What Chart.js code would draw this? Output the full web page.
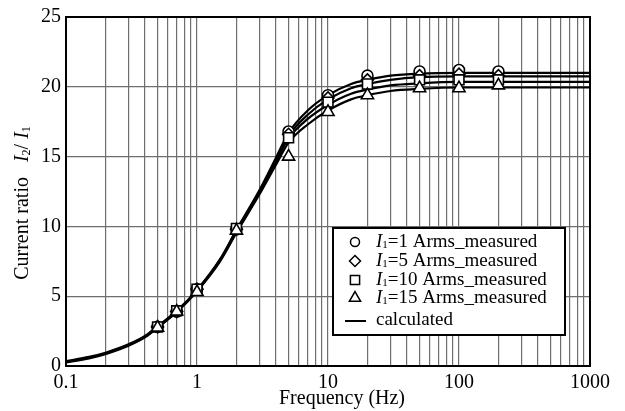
<!DOCTYPE html>
<html>
<head>
<meta charset="utf-8">
<script src="https://cdn.jsdelivr.net/npm/chart.js@4.4.1/dist/chart.umd.min.js"></script>
<style>
  body { margin: 0; background: #fff; }
  #wrap { width: 625px; height: 411px; }
</style>
</head>
<body>
<div id="wrap"><canvas id="ratio" width="625" height="411"></canvas></div>
<script>
// measured points (Hz)
var measFreqs = [0.5, 0.7, 1, 2, 5, 10, 20, 50, 100, 200];
var meas1  = [2.8, 3.9, 5.5, 9.8, 16.8, 19.4, 20.8, 21.1, 21.2, 21.1];
var meas5  = [2.8, 3.9, 5.5, 9.8, 16.6, 19.2, 20.5, 20.8, 20.9, 20.8];
var meas10 = [2.8, 3.95, 5.5, 9.85, 16.35, 18.9, 20.2, 20.5, 20.5, 20.5];
var meas15 = [2.75, 3.9, 5.3, 9.7, 15.0, 18.2, 19.4, 19.9, 19.9, 20.1];

// calculated curves
var calcFreqs = [0.1, 0.15, 0.2, 0.3, 0.4, 0.5, 0.7, 1, 1.5, 2, 3, 4, 5, 7, 10, 15, 20, 30, 50, 100, 200, 500, 1000];
var calc1  = [0.35, 0.65, 0.95, 1.55, 2.15, 2.85, 3.95, 5.45, 7.65, 9.75, 12.6, 14.9, 16.7, 18.3, 19.4, 20.2, 20.5, 20.8, 20.95, 21.0, 21.0, 21.0, 21.0];
var calc5  = [0.3, 0.6, 0.9, 1.5, 2.1, 2.8, 3.9, 5.4, 7.6, 9.7, 12.5, 14.8, 16.5, 18.0, 19.1, 19.9, 20.2, 20.5, 20.7, 20.75, 20.75, 20.75, 20.75];
var calc10 = [0.3, 0.6, 0.9, 1.5, 2.1, 2.8, 3.9, 5.4, 7.55, 9.6, 12.4, 14.6, 16.3, 17.7, 18.7, 19.5, 19.8, 20.1, 20.25, 20.35, 20.35, 20.35, 20.35];
var calc15 = [0.25, 0.55, 0.85, 1.45, 2.05, 2.75, 3.85, 5.35, 7.5, 9.55, 12.3, 14.4, 16.0, 17.3, 18.3, 19.1, 19.4, 19.7, 19.85, 19.95, 19.95, 19.95, 19.95];

var xTickLabels = ['0.1', '1', '10', '100', '1000'];
var yTicks = [0, 5, 10, 15, 20, 25];
var legendLabels = ['=1 Arms_measured', '=5 Arms_measured', '=10 Arms_measured', '=15 Arms_measured'];

var serif = '"Liberation Serif", "Times New Roman", serif';

function pts(xs, ys) {
  return xs.map(function(x, i) { return {x: x, y: ys[i]}; });
}

function lineSet(vals) {
  return {
    data: pts(calcFreqs, vals), showLine: true, pointRadius: 0,
    borderColor: '#000', borderWidth: 2.2, cubicInterpolationMode: 'monotone',
    fill: false, order: 5
  };
}

function markSet(vals, style, r, ord) {
  return {
    data: pts(measFreqs, vals), showLine: false, pointStyle: style,
    pointRadius: r, pointBorderWidth: 1.6, pointBackgroundColor: '#fff',
    pointBorderColor: '#000', borderColor: '#000', backgroundColor: '#fff', order: ord
  };
}

// log grid: 1..9 per decade
var gridVals = [];
for (var d = -1; d < 3; d++) {
  for (var m = 1; m < 10; m++) gridVals.push(parseFloat((m * Math.pow(10, d)).toPrecision(3)));
}
gridVals.push(1000);

function drawRuns(ctx, runs, x, y) {
  var cx = x;
  runs.forEach(function(r) {
    ctx.font = r.font;
    ctx.fillText(r.t, cx, y + (r.dy || 0));
    cx += ctx.measureText(r.t).width;
  });
  return cx - x;
}

var decor = {
  id: 'decor',
  afterDraw: function(chart) {
    var ctx = chart.ctx;
    var a = chart.chartArea;
    ctx.save();
    // plot frame
    ctx.strokeStyle = '#000';
    ctx.lineWidth = 2;
    ctx.strokeRect(a.left, a.top, a.right - a.left, a.bottom - a.top);

    ctx.fillStyle = '#000';
    ctx.textBaseline = 'middle';
    ctx.textAlign = 'left';
    var reg = '20px ' + serif, ital = 'italic 20px ' + serif, sub = '12px ' + serif;

    // x title
    ctx.font = reg;
    var xt = 'Frequency (Hz)';
    ctx.fillText(xt, 342 - ctx.measureText(xt).width / 2, 399);

    // y title
    var yRuns = [
      {t: 'Current ratio   ', font: reg},
      {t: 'I', font: ital}, {t: '2', font: sub, dy: 4},
      {t: '/ ', font: reg},
      {t: 'I', font: ital}, {t: '1', font: sub, dy: 4}
    ];
    ctx.save();
    ctx.translate(23, 203);
    ctx.rotate(-Math.PI / 2);
    var tw = 0;
    yRuns.forEach(function(r) { ctx.font = r.font; tw += ctx.measureText(r.t).width; });
    drawRuns(ctx, yRuns, -tw / 2, 0);
    ctx.restore();

    // legend box
    var bx = 333, by = 228, bw = 232, bh = 107;
    ctx.fillStyle = '#fff';
    ctx.fillRect(bx, by, bw, bh);
    ctx.strokeStyle = '#000';
    ctx.lineWidth = 2;
    ctx.strokeRect(bx, by, bw, bh);

    var rows = [242, 261, 280, 298];
    var styles = ['circle', 'rectRot', 'rect', 'triangle'];
    var radii = [5, 6, 7, 7];
    rows.forEach(function(ry, i) {
      ctx.fillStyle = '#fff';
      ctx.strokeStyle = '#000';
      ctx.lineWidth = 1.5;
      Chart.helpers.drawPoint(ctx, {pointStyle: styles[i], radius: radii[i] - 0.5, borderWidth: 1.5, rotation: 0}, 355, ry);
      ctx.fillStyle = '#000';
      ctx.textBaseline = 'middle';
      drawRuns(ctx, [
        {t: 'I', font: 'italic 19px ' + serif},
        {t: '1', font: '11px ' + serif, dy: 3},
        {t: legendLabels[i], font: '19px ' + serif}
      ], 376, ry);
    });
    ctx.strokeStyle = '#000';
    ctx.lineWidth = 2;
    ctx.beginPath();
    ctx.moveTo(345, 321);
    ctx.lineTo(366, 321);
    ctx.stroke();
    ctx.fillStyle = '#000';
    ctx.font = '19px ' + serif;
    ctx.fillText('calculated', 376, 320);
    ctx.restore();
  }
};

var ctx = document.getElementById('ratio').getContext('2d');
var config = {
  type: 'line',
  data: {
    datasets: [
      markSet(meas15, 'triangle', 7, 1),
      markSet(meas10, 'rect', 7, 2),
      markSet(meas5, 'rectRot', 6, 3),
      markSet(meas1, 'circle', 5.5, 4),
      lineSet(calc1), lineSet(calc5), lineSet(calc10), lineSet(calc15)
    ]
  },
  options: {
    responsive: false,
    animation: false,
    layout: { padding: { top: 16, right: 35, left: 0, bottom: 0 } },
    plugins: { legend: { display: false }, tooltip: { enabled: false } },
    scales: {
      x: {
        type: 'logarithmic', min: 0.1, max: 1000,
        afterBuildTicks: function(scale) {
          scale.ticks = gridVals.map(function(v) { return {value: v}; });
        },
        afterFit: function(scale) { scale.height = 45; },
        grid: { color: '#6e6e6e', lineWidth: 1.2, drawTicks: false },
        border: { display: false },
        ticks: {
          autoSkip: false, maxRotation: 0, padding: 5, color: '#000',
          font: { family: serif, size: 20 },
          callback: function(v) {
            var i = [0.1, 1, 10, 100, 1000].indexOf(v);
            return i >= 0 ? xTickLabels[i] : '';
          }
        }
      },
      y: {
        min: 0, max: 25,
        afterBuildTicks: function(scale) {
          scale.ticks = yTicks.map(function(v) { return {value: v}; });
        },
        afterFit: function(scale) { scale.width = 66; },
        grid: { color: '#6e6e6e', lineWidth: 1.2, drawTicks: false },
        border: { display: false },
        ticks: { padding: 5, color: '#000', font: { family: serif, size: 20 } }
      }
    }
  },
  plugins: [decor]
};

var myChart = new Chart(ctx, config);
</script>
</body>
</html>
